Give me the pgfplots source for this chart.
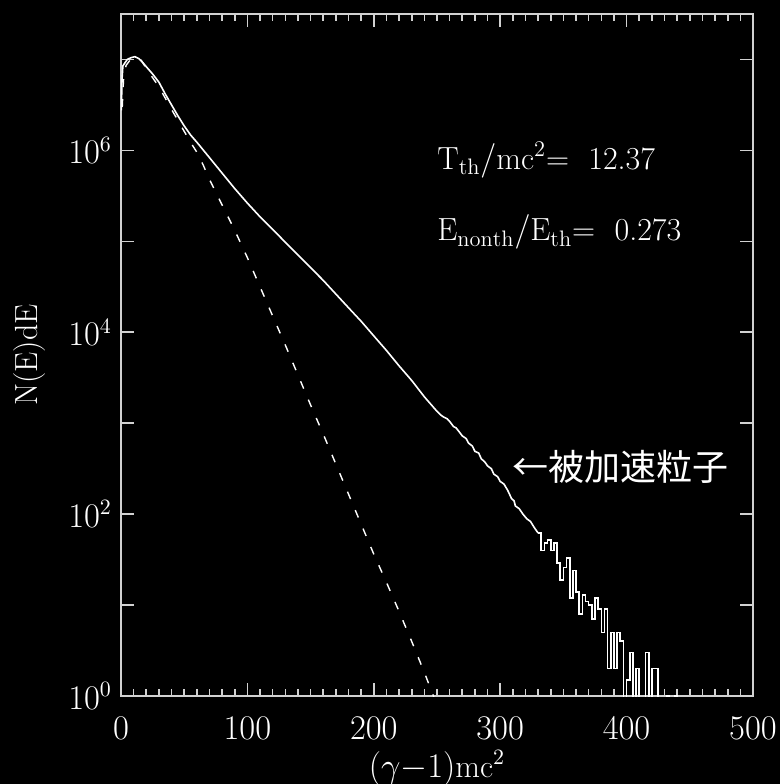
\documentclass[border=0pt]{standalone}
\usepackage{fontspec}
\usepackage{pgfplots}
\pgfplotsset{compat=1.18}
\newfontfamily\cjk{Noto Sans CJK JP}

\definecolor{frame}{gray}{0.82}

\begin{document}
\begin{tikzpicture}[font=\fontsize{16}{19}\selectfont, text=white]
\path[use as bounding box, fill=black] (-60.5pt,-44pt) rectangle (329.5pt,348pt);
\begin{axis}[
  scale only axis, width=316pt, height=341pt,
  at={(0,0)}, anchor=south west,
  ymode=log, xmin=0, xmax=500, ymin=1, ymax=3.16e7,
  axis line style={frame, line width=0.8pt},
  every tick/.style={frame, line width=0.8pt},
  major tick length=6.5pt, minor tick length=3.5pt,
  xtick={0,100,...,500}, minor x tick num=9,
  ytick={1,10,100,1000,10000,100000,1000000,10000000},
  yticklabels={$10^{0}$,,$10^{2}$,,$10^{4}$,,$10^{6}$,},
  yminorticks=false,
  xticklabel style={yshift=-7pt},
  yticklabel style={xshift=-1pt},
  xlabel={$(\gamma{-}1)\mathrm{mc}^2$},
  ylabel={N(E)dE},
  xlabel style={at={(axis description cs:0.5,-0.106)}, anchor=center},
  ylabel style={at={(axis description cs:-0.144,0.5)}, anchor=center},
  clip=true,
]
% Maxwellian fit
\addplot[white, line width=0.7pt, dash pattern=on 4pt off 6pt] coordinates {
(1,3.0e6) (2,6.0e6) (4,8.6e6) (8,1.02e7) (12,1.04e7) (16,9.8e6)
(20,7.94e6) (30,5.01e6) (40,2.82e6) (45,2.14e6) (50,1.62e6) (55,1.23e6)
(60,9.55e5) (65,6.92e5) (70,4.79e5) (80,2.51e5) (90,1.32e5) (100,6.61e4)
(110,3.16e4) (120,1.51e4) (130,7240) (140,3390) (150,1585) (160,759)
(170,355) (180,166) (190,77.6) (200,36.3) (210,17.8) (220,8.51)
(230,3.98) (240,1.82) (245,1.20) (250,0.79)
};
% simulated spectrum
\addplot[white, line width=0.8pt] coordinates {
(0.3,2.75e6) (0.8,6.0e6) (1.5,8.5e6) (3,9.12e6) (5,1.0e7) (8,1.047e7)
(11,1.072e7) (14,1.023e7) (17,9.33e6) (20,8.32e6) (25,6.92e6) (30,5.62e6)
(35,4.17e6) (40,3.16e6) (45,2.40e6) (50,1.86e6) (55,1.48e6) (60,1.23e6)
(70,8.32e5) (80,5.62e5) (90,3.80e5) (100,2.63e5) (110,1.86e5) (120,1.35e5)
(130,9.77e4) (140,7.08e4) (150,5.13e4) (160,3.72e4) (170,2.63e4) (180,1.86e4)
(190,1.32e4) (200,9120) (210,6310) (220,4270) (230,2950) (240,1950)
(250,1350) (253,1230) (255,1175) (258,1120) (260,1047) (263,920) (265,891)
(268,790) (270,724) (273,680) (275,603) (278,560) (280,490) (283,470)
(285,407) (288,372) (290,339) (293,316) (295,275) (298,258) (300,229)
(303,214) (306,182) (309,148) (311,140) (312,123) (315,115) (318,100)
(321,89) (324,83) (327,71) (330,62)
};
\addplot[white, line width=0.8pt, const plot] coordinates {
(330,62) (332.5,40) (335,48) (337.5,52) (340,40) (342.5,48) (345,29)
(347.5,19) (350,26) (352.5,33) (355,12) (357.5,24) (360,14) (362.5,8)
(365,13) (367.5,11) (370,10) (372.5,7) (375,12) (377.5,9) (380,5)
(382.5,9) (385,2) (387.5,5) (390,2) (392.5,5) (395,4) (397.5,0.1)
(400,1.5) (402.5,3) (405,0.1) (407.5,2) (410,0.1) (412.5,0.1) (415,3)
(417.5,0.1) (420,2) (422.5,2) (425,0.1) (432,1) (434,0.1) (438,1) (440,0.1)
};
\node[anchor=west, inner sep=0pt] at (axis description cs:0.5,0.786)
  {$\mathrm{T_{th}/mc^{2}}$=\ \ 12.37};
\node[anchor=west, inner sep=0pt] at (axis description cs:0.5,0.680)
  {$\mathrm{E_{nonth}/E_{th}}$=\ \ 0.273};
\node[anchor=west, inner sep=0pt] at (axis description cs:0.619,0.336)
  {\cjk\fontsize{18}{20}\selectfont ←被加速粒子};
\end{axis}
\end{tikzpicture}
\end{document}
